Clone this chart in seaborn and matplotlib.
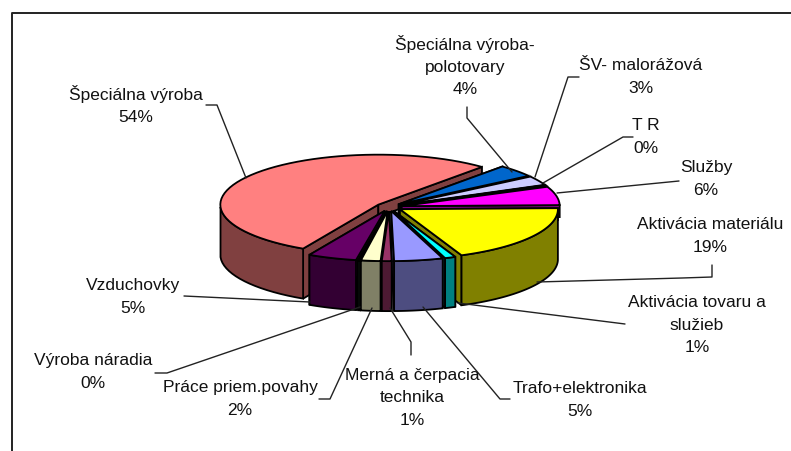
import numpy as np
import seaborn as sns
from matplotlib import pyplot as plt

# clockwise from the big slice
LABELS = ['Špeciálna výroba', 'Špeciálna výroba-\npolotovary', 'ŠV- malorážová', 'T R', 'Služby',
          'Aktivácia materiálu', 'Aktivácia tovaru a\nslužieb', 'Trafo+elektronika',
          'Merná a čerpacia\ntechnika', 'Práce priem.povahy', 'Výroba náradia', 'Vzduchovky']
VALUES = [53.6, 4.0, 3.0, 0.3, 6.0, 19.0, 1.1, 5.0, 1.0, 2.0, 0.2, 5.0]
SHOWN_PCT = [54, 4, 3, 0, 6, 19, 1, 5, 1, 2, 0, 5]
TOP_COLORS = ['#FF8080', '#0066CC', '#CCCCFF', '#000080', '#FF00FF', '#FFFF00',
              '#00FFFF', '#9999FF', '#993366', '#FFFFCC', '#CCFFFF', '#660066']
SIDE_COLORS = ['#804040', '#003366', '#666680', '#000040', '#800080', '#808000',
               '#008080', '#4D4D80', '#4D1A33', '#808066', '#668080', '#330033']

# label centres and leader lines, in picture pixels
LABEL_POS = [(136, 105), (465, 66), (641, 77), (646, 137), (706, 179), (710, 236),
             (697, 325), (580, 400), (412, 398), (240, 399), (93, 372), (133, 297)]
LEADERS = [[(206, 105), (217, 105), (246, 178)],
           [(467, 107), (467, 118), (512, 172)],
           [(579, 77), (568, 77), (535, 177)],
           [(633, 137), (623, 137), (543, 183)],
           [(679, 181), (557, 193)],
           [(712, 265), (712, 277), (682, 278), (537, 282)],
           [(625, 324), (458, 303)],
           [(510, 399), (500, 399), (423, 307)],
           [(411, 355), (411, 342), (390, 308)],
           [(319, 399), (330, 399), (372, 308)],
           [(155, 373), (167, 373), (360, 307)],
           [(184, 296), (310, 302)]]

CENTER = (389, 207)
RX, RY = 158, 50
DEPTH = 50
BACK_FACE_DEPTH = 12
EXPLODE = 13
START_ANGLE = 49


def slicePoints(a0, a1, ox, oy):
    angles = np.radians(np.linspace(a0, a1, 60))
    return ox + RX * np.cos(angles), oy - RY * np.sin(angles)


def drawSlice(ax, a0, a1, top, side):
    mid = np.radians((a0 + a1) / 2)
    ox = CENTER[0] + EXPLODE * np.cos(mid)
    oy = CENTER[1] - EXPLODE * RY / RX * np.sin(mid)
    x, y = slicePoints(a0, a1, ox, oy)

    # the two cut faces, short ones at the back so they don't poke out past the front slices
    for i, angle in ((0, a0), (-1, a1)):
        d = DEPTH if np.sin(np.radians(angle)) < 0 else BACK_FACE_DEPTH
        ax.fill([ox, x[i], x[i], ox], [oy, y[i], y[i] + d, oy + d],
                facecolor=side, edgecolor='black', linewidth=1.3)

    # outer wall, only where it faces the viewer
    front = np.sin(np.radians(np.linspace(a0, a1, 60))) <= 0
    if front.any():
        fx, fy = x[front], y[front]
        ax.fill(np.r_[fx, fx[::-1]], np.r_[fy, fy[::-1] + DEPTH],
                facecolor=side, edgecolor='black', linewidth=1.3)

    ax.fill(np.r_[ox, x], np.r_[oy, y], facecolor=top, edgecolor='black', linewidth=1.3)


def start():
    sns.set_theme(style='white')
    plt.rcParams['font.family'] = 'Liberation Sans'

    fig = plt.figure(figsize=(7.91, 4.51), dpi=100)
    ax = fig.add_axes([0, 0, 1, 1])
    ax.set_xlim(0, 791)
    ax.set_ylim(451, 0)
    ax.axis('off')

    # frame is open on the right and at the bottom
    ax.plot([12, 12, 791], [451, 13, 13], color='#222222', lw=1.4)

    for pts, label, pct, pos in zip(LEADERS, LABELS, SHOWN_PCT, LABEL_POS):
        ax.plot(*zip(*pts), color='#222222', lw=1)
        ax.text(pos[0], pos[1], '{}\n{}%'.format(label, pct), ha='center', va='center',
                fontsize=12.5, color='#111111', linespacing=1.62)

    # big slice goes round the back, the others clockwise from its end
    spans = np.array(VALUES) / sum(VALUES) * 360
    slices = []
    for i in range(1, len(VALUES)):
        a0 = START_ANGLE - spans[1:i].sum()
        slices.append((np.sin(np.radians(a0 - spans[i] / 2)), i, a0, a0 - spans[i]))
    drawSlice(ax, START_ANGLE + spans[0], START_ANGLE, TOP_COLORS[0], SIDE_COLORS[0])
    for _, i, a0, a1 in sorted(slices, reverse=True):
        drawSlice(ax, a0, a1, TOP_COLORS[i], SIDE_COLORS[i])

    plt.savefig('out.png', dpi=100)


start()
